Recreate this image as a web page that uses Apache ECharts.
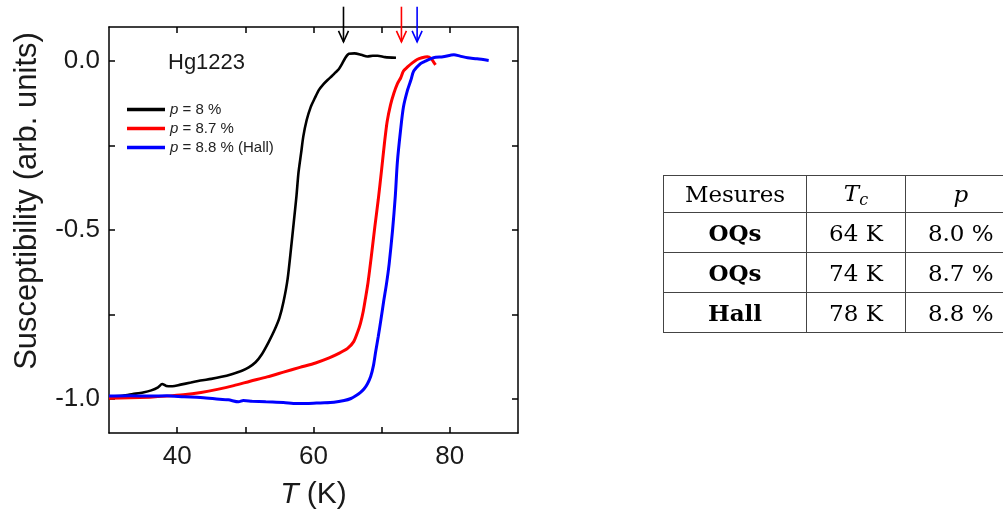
<!DOCTYPE html>
<html>
<head>
<meta charset="utf-8">
<script src="https://cdn.jsdelivr.net/npm/echarts@6/dist/echarts.min.js"></script>
<style>
  html, body { margin:0; padding:0; background:#fff; }
  body { width:1003px; height:518px; overflow:hidden; position:relative; }
  #chart { position:absolute; left:0; top:0; width:1003px; height:518px; }
  #wrap { position:absolute; left:663px; top:175px; width:420px; }
  #tbl { border-collapse:collapse; table-layout:fixed; width:352px;
         font-family:'DejaVu Serif', serif; font-size:23px; color:#000; }
  #tbl td { border:1.5px solid #444; padding:0; text-align:center; vertical-align:middle; white-space:nowrap; }
  #tbl td:last-child { border-right:none; }
</style>
</head>
<body>
<div id="chart"></div>
<div id="wrap"><table id="tbl"></table></div>
<script>
// ---- data ----
const blackT = [30.0,32.0,33.5,35.0,36.2,37.2,37.8,38.4,39.3,40.5,42.0,43.4,45.0,46.5,48.0,49.5,50.5,51.5,52.4,53.4,54.3,55.0,55.6,56.2,56.7,57.1,57.5,57.8,58.2,58.5,59.0,59.6,60.2,60.8,61.5,62.1,62.7,63.2,63.7,64.1,64.7,65.2,66.0,67.0,67.9,68.7,69.4,70.5,72.1];
const blackY = [-0.992,-0.990,-0.985,-0.980,-0.974,-0.965,-0.955,-0.961,-0.962,-0.957,-0.951,-0.945,-0.940,-0.934,-0.926,-0.916,-0.906,-0.891,-0.868,-0.832,-0.795,-0.760,-0.712,-0.645,-0.555,-0.478,-0.400,-0.330,-0.270,-0.224,-0.175,-0.136,-0.110,-0.086,-0.068,-0.056,-0.045,-0.035,-0.025,-0.012,0.010,0.021,0.022,0.018,0.013,0.015,0.015,0.011,0.009];

const redT = [30.0,33.0,36.0,38.5,40.9,43.5,45.9,48.3,50.7,53.2,55.6,58.0,60.3,62.3,63.8,65.0,65.9,66.5,66.9,67.3,67.6,68.0,68.5,69.0,69.5,70.0,70.4,70.8,71.3,71.8,72.3,72.8,73.2,73.8,74.5,75.2,75.9,76.7,77.3,77.6,77.9];
const redY = [-0.997,-0.996,-0.994,-0.991,-0.987,-0.980,-0.971,-0.960,-0.947,-0.934,-0.920,-0.906,-0.893,-0.878,-0.864,-0.850,-0.830,-0.800,-0.775,-0.740,-0.705,-0.655,-0.575,-0.490,-0.410,-0.320,-0.245,-0.180,-0.130,-0.095,-0.068,-0.050,-0.030,-0.018,-0.006,0.004,0.009,0.012,0.006,-0.003,-0.012];

const blueT = [30.0,33.0,36.0,38.5,41.0,43.4,45.5,47.5,49.0,49.7,51.0,53.0,55.6,57.5,59.1,61.0,63.0,64.5,65.5,66.2,66.9,67.4,67.9,68.4,68.8,69.1,69.5,69.9,70.3,70.7,71.1,71.6,72.0,72.3,72.8,73.2,73.8,74.3,74.7,75.7,76.2,77.6,79.0,80.6,81.5,82.6,84.0,85.7];
const blueY = [-0.991,-0.990,-0.991,-0.990,-0.993,-0.995,-0.999,-1.002,-1.008,-1.004,-1.006,-1.008,-1.010,-1.013,-1.013,-1.011,-1.009,-1.004,-0.998,-0.990,-0.980,-0.970,-0.955,-0.932,-0.900,-0.862,-0.815,-0.764,-0.710,-0.660,-0.600,-0.500,-0.400,-0.300,-0.200,-0.136,-0.086,-0.056,-0.030,-0.008,-0.003,0.009,0.012,0.018,0.014,0.009,0.006,0.001];

const seriesNames = ['p = 8 %', 'p = 8.7 %', 'p = 8.8 % (Hall)'];
const seriesColors = ['#000000', '#ff0000', '#0000ff'];

const xTicks = [40, 50, 60, 70, 80];
const xLabels = [40, 60, 80];
const yTicks = [-1.0, -0.75, -0.5, -0.25, 0.0];
const yLabels = [-1.0, -0.5, 0.0];

const arrowT = [64.4, 72.9, 75.2];
const arrowTop = 0.16;
const arrowTip = 0.056;

const sampleLabel = 'Hg1223';
const yAxisTitle = 'Susceptibility (arb. units)';

const tableHeader = ['Mesures', 'T_c', 'p'];
const tableMethods = ['OQs', 'OQs', 'Hall'];
const tableTc = ['64 K', '74 K', '78 K'];
const tableP = ['8.0 %', '8.7 %', '8.8 %'];

// ---- table ----
(function buildTable(){
  const tbl = document.getElementById('tbl');
  const colW = [143, 99, 110];
  let html = '<colgroup>' + colW.map(w => '<col style="width:'+w+'px">').join('') + '</colgroup>';
  html += '<tr style="height:37px">';
  html += '<td>' + tableHeader[0] + '</td>';
  html += '<td><i>T</i><sub style="font-size:16px;font-style:italic;vertical-align:-4px">c</sub></td>';
  html += '<td><i>' + tableHeader[2] + '</i></td></tr>';
  for (let i = 0; i < tableMethods.length; i++) {
    html += '<tr style="height:40px"><td style="font-weight:bold">' + tableMethods[i] + '</td><td>' + tableTc[i] + '</td><td>' + tableP[i] + '</td></tr>';
  }
  tbl.innerHTML = html;
})();

// ---- chart ----
const chart = echarts.init(document.getElementById('chart'), null, {renderer:'canvas'});
const FONT = 'Liberation Sans, Arial, sans-serif';
const xMin = 30, xMax = 90, yMin = -1.1, yMax = 0.1;

function mkData(t, y){ return t.map((v,i)=>[v, y[i]]); }

const axisLine = {show:true, onZero:false, lineStyle:{color:'#000', width:1.5}};
const tickStyle = {color:'#000', width:1.5};

const option = {
  animation:false,
  backgroundColor:'#fff',
  grid:{left:109, top:27, right:485, bottom:85, containLabel:false},
  legend:{
    orient:'vertical', left:122, top:97,
    itemWidth:38, itemHeight:3.5, itemGap:4, icon:'rect',
    data:seriesNames,
    formatter:function(n){ return '{i|p}{n|' + n.slice(1) + '}'; },
    textStyle:{fontFamily:FONT, fontSize:15, color:'#222', lineHeight:15,
      rich:{i:{fontStyle:'italic', fontFamily:FONT, fontSize:15, color:'#222'}, n:{fontFamily:FONT, fontSize:15, color:'#222'}}}
  },
  xAxis:[{
    type:'value', min:xMin, max:xMax, position:'bottom',
    axisLine:axisLine,
    axisTick:{show:true, inside:true, length:6, customValues:xTicks, lineStyle:tickStyle},
    axisLabel:{customValues:xLabels, fontFamily:FONT, fontSize:26, color:'#1a1a1a', margin:11},
    splitLine:{show:false},
    name:'{i|T} (K)', nameLocation:'middle', nameGap:47,
    nameTextStyle:{fontFamily:FONT, fontSize:30, color:'#1a1a1a',
      rich:{i:{fontStyle:'italic', fontFamily:FONT, fontSize:30, color:'#1a1a1a'}}}
  },{
    type:'value', min:xMin, max:xMax, position:'top',
    axisLine:axisLine,
    axisTick:{show:true, inside:true, length:6, customValues:xTicks, lineStyle:tickStyle},
    axisLabel:{show:false}, splitLine:{show:false}
  }],
  yAxis:[{
    type:'value', min:yMin, max:yMax, position:'left',
    axisLine:axisLine,
    axisTick:{show:true, inside:true, length:6, customValues:yTicks, lineStyle:tickStyle},
    axisLabel:{customValues:yLabels, fontFamily:FONT, fontSize:26, color:'#1a1a1a', margin:9,
      formatter:function(v){ return v.toFixed(1); }},
    splitLine:{show:false}
  },{
    type:'value', min:yMin, max:yMax, position:'right',
    axisLine:axisLine,
    axisTick:{show:true, inside:true, length:6, customValues:yTicks, lineStyle:tickStyle},
    axisLabel:{show:false}, splitLine:{show:false}
  }],
  series:[
    {name:seriesNames[0], type:'line', data:mkData(blackT, blackY), showSymbol:false, smooth:0.25,
     lineStyle:{color:seriesColors[0], width:2.6}, itemStyle:{color:seriesColors[0]}},
    {name:seriesNames[1], type:'line', data:mkData(redT, redY), showSymbol:false, smooth:0.25,
     lineStyle:{color:seriesColors[1], width:3}, itemStyle:{color:seriesColors[1]}},
    {name:seriesNames[2], type:'line', data:mkData(blueT, blueY), showSymbol:false, smooth:0.25,
     lineStyle:{color:seriesColors[2], width:3}, itemStyle:{color:seriesColors[2]}}
  ],
  graphic:[{
    type:'text', left:168, top:52,
    style:{text:sampleLabel, fontFamily:FONT, fontSize:22, fill:'#1a1a1a'}
  },{
    type:'text', x:27, y:201, rotation:Math.PI/2,
    style:{text:yAxisTitle, fontFamily:FONT, fontSize:31, fill:'#1a1a1a', align:'center', verticalAlign:'middle'}
  }]
};
chart.setOption(option);

// arrows marking Tc, positioned through the axes
const arrowGraphics = [];
arrowT.forEach(function(t, i){
  const top = chart.convertToPixel({xAxisIndex:0, yAxisIndex:0}, [t, arrowTop]);
  const tip = chart.convertToPixel({xAxisIndex:0, yAxisIndex:0}, [t, arrowTip]);
  arrowGraphics.push({type:'line', shape:{x1:top[0], y1:top[1], x2:tip[0], y2:tip[1]},
    style:{stroke:seriesColors[i], lineWidth:1.6}, z:10});
  arrowGraphics.push({type:'polyline', shape:{points:[[tip[0]-5, tip[1]-11],[tip[0], tip[1]],[tip[0]+5, tip[1]-11]]},
    style:{stroke:seriesColors[i], lineWidth:1.6, fill:null}, z:10});
});
chart.setOption({graphic: option.graphic.concat(arrowGraphics)});
</script>
</body>
</html>
